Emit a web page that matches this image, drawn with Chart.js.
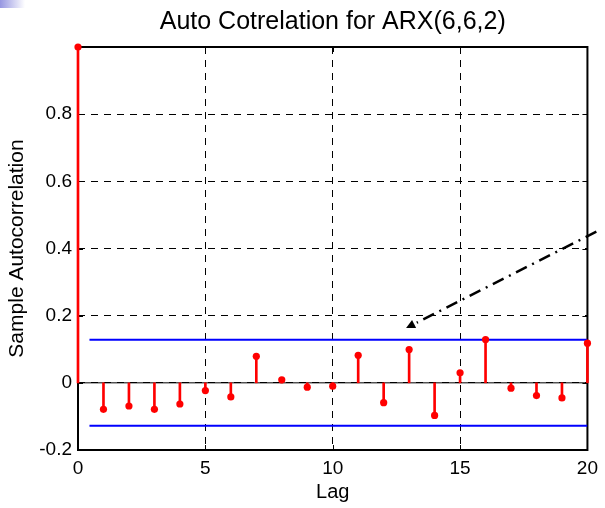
<!DOCTYPE html>
<html>
<head>
<meta charset="utf-8">
<script src="https://cdn.jsdelivr.net/npm/chart.js@4"></script>
<style>
  body { margin: 0; background: #fff; }
  #wrap { position: relative; width: 605px; height: 508px; }
  #corner { position: absolute; left: 0; top: 0; width: 25px; height: 8px;
            background: linear-gradient(to right, rgb(150,150,225), #fff); }
</style>
</head>
<body>
<div id="wrap">
  <canvas id="acf" width="605" height="508"></canvas>
  <div id="corner"></div>
</div>
<script>
const lags = [0, 1, 2, 3, 4, 5, 6, 7, 8, 9, 10, 11, 12, 13, 14, 15, 16, 17, 18, 19, 20];
const acf = [1.0, -0.079, -0.069, -0.079, -0.063, -0.023, -0.042, 0.079, 0.009, -0.013, -0.010,
             0.082, -0.059, 0.099, -0.097, 0.030, 0.129, -0.016, -0.038, -0.045, 0.118];
const boundLags = [0.45, 20];
const upperBound = [0.128, 0.128];
const lowerBound = [-0.128, -0.128];
const baseLags = [0, 20];
const baseValues = [0, 0];
// dash-dot arrow, [lag, value]
const arrowFrom = [20.35, 0.45];
const arrowTo = [12.88, 0.163];

const pts = (xs, ys) => xs.map((v, i) => ({ x: v, y: ys[i] }));

// MATLAB-like box with inward ticks; title centred over the axes
const frame = {
  id: 'frame',
  afterLayout(chart) {
    if (chart.titleBlock) {
      chart.titleBlock.left = chart.chartArea.left;
      chart.titleBlock.right = chart.chartArea.right;
    }
  },
  beforeDatasetsDraw(chart) {
    const { ctx, chartArea: a, scales: { x, y } } = chart;
    ctx.save();
    ctx.strokeStyle = '#000';
    ctx.lineWidth = 1;
    ctx.beginPath();
    x.ticks.forEach(t => {
      const px = Math.round(x.getPixelForValue(t.value)) + 0.5;
      ctx.moveTo(px, a.bottom); ctx.lineTo(px, a.bottom - 5);
      ctx.moveTo(px, a.top); ctx.lineTo(px, a.top + 5);
    });
    y.ticks.forEach(t => {
      const py = Math.round(y.getPixelForValue(t.value)) + 0.5;
      ctx.moveTo(a.left, py); ctx.lineTo(a.left + 5, py);
      ctx.moveTo(a.right, py); ctx.lineTo(a.right - 5, py);
    });
    ctx.stroke();
    ctx.lineWidth = 2;
    ctx.strokeRect(a.left, a.top, a.right - a.left, a.bottom - a.top);
    ctx.restore();
  }
};

const arrow = {
  id: 'arrow',
  afterDatasetsDraw(chart) {
    const { ctx, scales: { x, y } } = chart;
    const x0 = x.getPixelForValue(arrowFrom[0]), y0 = y.getPixelForValue(arrowFrom[1]);
    const x1 = x.getPixelForValue(arrowTo[0]), y1 = y.getPixelForValue(arrowTo[1]);
    const ang = Math.atan2(y1 - y0, x1 - x0);
    const c = Math.cos(ang), s = Math.sin(ang);
    const head = 9, half = 4.5;
    ctx.save();
    ctx.strokeStyle = '#000';
    ctx.fillStyle = '#000';
    ctx.lineWidth = 2.5;
    ctx.setLineDash([12, 6, 2, 6]);
    ctx.beginPath();
    ctx.moveTo(x0, y0);
    ctx.lineTo(x1 - (head + 3) * c, y1 - (head + 3) * s);
    ctx.stroke();
    ctx.setLineDash([]);
    ctx.beginPath();
    ctx.moveTo(x1, y1);
    ctx.lineTo(x1 - head * c - half * s, y1 - head * s + half * c);
    ctx.lineTo(x1 - head * c + half * s, y1 - head * s - half * c);
    ctx.closePath();
    ctx.fill();
    ctx.restore();
  }
};

const font = 'Liberation Sans, Arial, Helvetica, sans-serif';

new Chart(document.getElementById('acf'), {
  type: 'scatter',
  data: {
    datasets: [
      {
        type: 'scatter',
        data: pts(lags, acf),
        backgroundColor: 'rgb(255,0,0)',
        borderWidth: 0,
        pointRadius: 3.6,
        clip: false,
        order: 0
      },
      {
        type: 'bar',
        data: pts(lags, acf),
        backgroundColor: 'rgb(255,0,0)',
        borderWidth: 0,
        barThickness: 2,
        clip: false,
        order: 1
      },
      {
        type: 'line',
        data: pts(baseLags, baseValues),
        borderColor: '#000',
        borderWidth: 1,
        pointRadius: 0,
        clip: false,
        order: 2
      },
      {
        type: 'line',
        data: pts(boundLags, upperBound),
        borderColor: 'rgb(0,0,255)',
        borderWidth: 2,
        pointRadius: 0,
        order: 3
      },
      {
        type: 'line',
        data: pts(boundLags, lowerBound),
        borderColor: 'rgb(0,0,255)',
        borderWidth: 2,
        pointRadius: 0,
        order: 3
      }
    ]
  },
  options: {
    responsive: false,
    animation: false,
    layout: { padding: { left: 0, right: 14, top: 0, bottom: 0 } },
    plugins: {
      legend: { display: false },
      tooltip: { enabled: false },
      title: {
        display: true,
        text: 'Auto Cotrelation for ARX(6,6,2)',
        color: '#000',
        font: { family: font, size: 25, weight: 'normal' },
        padding: { top: 7.5, bottom: 9.5 }
      }
    },
    scales: {
      x: {
        type: 'linear',
        min: 0,
        max: 20,
        offset: false,
        afterFit: s => { s.height = 58; },
        ticks: { stepSize: 5, color: '#000', padding: 7, font: { family: font, size: 19 } },
        grid: { color: '#000', lineWidth: 1, drawTicks: false, offset: false },
        border: { display: false, dash: [7, 6] },
        title: { display: true, text: 'Lag', color: '#000', padding: { bottom: 3.5 },
                 font: { family: font, size: 20 } }
      },
      y: {
        type: 'linear',
        min: -0.2,
        max: 1,
        afterFit: s => { s.width = 78; },
        ticks: {
          stepSize: 0.2, color: '#000', padding: 6, font: { family: font, size: 19 },
          callback: v => (v > 0.99 ? '' : String(Math.round(v * 10) / 10))
        },
        grid: { color: '#000', lineWidth: 1, drawTicks: false },
        border: { display: false, dash: [7, 6] },
        title: { display: true, text: 'Sample Autocorrelation', color: '#000', padding: { top: 5 },
                 font: { family: font, size: 21 } }
      }
    }
  },
  plugins: [frame, arrow]
});
</script>
</body>
</html>
